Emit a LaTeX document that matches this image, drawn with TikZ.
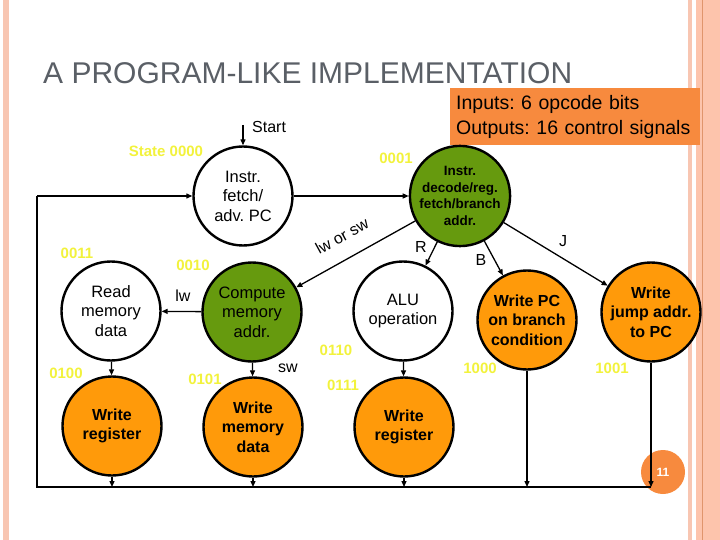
\documentclass[tikz,border=0pt]{standalone}
\usepackage{fontspec}
\setmainfont{Liberation Sans}
\usetikzlibrary{arrows.meta}
\definecolor{stategreen}{HTML}{669A0E}
\definecolor{stateorange}{HTML}{FF9A0A}
\definecolor{boxorange}{HTML}{F78A3E}
\definecolor{codeyellow}{HTML}{F2F23C}
\definecolor{titlegray}{HTML}{5A5F66}
\definecolor{edgepink}{HTML}{F8C6B2}
\definecolor{edgepeach}{HTML}{FDC4AC}
\definecolor{edgedark}{HTML}{E0956C}
\frenchspacing

\begin{document}
\begin{tikzpicture}[x=1pt,y=-1pt,
  fsmstate/.style={circle,draw=black,line width=2.4pt,minimum size=99pt,inner sep=0pt,align=center,font=\fontsize{16.5}{19.5}\selectfont},
  greenstate/.style={fsmstate,fill=stategreen},
  orangestate/.style={fsmstate,fill=stateorange,font=\bfseries\fontsize{16}{19.5}\selectfont},
  statecode/.style={text=codeyellow,font=\bfseries\fontsize{15}{16}\selectfont,inner sep=0pt},
  edgelabel/.style={font=\fontsize{16}{16}\selectfont,inner sep=0pt},
  link/.style={line width=1.3pt},
  arrow/.style={link,-{Triangle[length=6pt,width=5pt]}}]
\useasboundingbox (0,0) rectangle (720,540);
\fill[edgepink] (3,0) rectangle (9,540);
\fill[edgepink] (688,0) rectangle (692,540);
\fill[edgepeach] (696,0) rectangle (720,540);
\draw[edgedark,line width=1pt] (702,0) -- (702,540);

\node[anchor=base west,text=titlegray,font=\fontsize{30}{30}\selectfont,inner sep=0pt] (title) at (43,84) {A PROGRAM-LIKE IMPLEMENTATION};
\node[fill=boxorange,anchor=north west,minimum width=250pt,minimum height=57pt,text width=238pt,inner xsep=6pt,align=left,font=\fontsize{19.5}{25}\selectfont] (iobox) at (450,88) {Inputs: 6 opcode bits\\Outputs: 16 control signals};

\node[fsmstate] (fetch) at (243,196) {Instr.\\fetch/\\adv. PC};
\node[greenstate,font=\bfseries\fontsize{13.5}{16.5}\selectfont] (decode) at (460,196) {Instr.\\decode/reg.\\fetch/branch\\addr.};
\node[fsmstate] (read) at (111,311) {Read\\memory\\data};
\node[greenstate] (compute) at (252,312) {Compute\\memory\\addr.};
\node[fsmstate] (alu) at (403,311) {ALU\\operation};
\node[orangestate] (wreg1) at (112,426) {Write\\register};
\node[orangestate] (wmem) at (253,427) {Write\\memory\\data};
\node[orangestate] (wreg2) at (404,427) {Write\\register};
\node[orangestate] (wpc) at (527,320) {Write PC\\on branch\\condition};
\node[orangestate] (jump) at (651,312) {Write\\jump addr.\\to PC};

\node[statecode] (c0000) at (166,151) {State 0000};
\node[statecode] (c0001) at (396,158) {0001};
\node[statecode] (c0011) at (77,253) {0011};
\node[statecode] (c0010) at (193,265) {0010};
\node[statecode] (c0100) at (66,373) {0100};
\node[statecode] (c0101) at (205,379) {0101};
\node[statecode] (c0110) at (336,350) {0110};
\node[statecode] (c0111) at (343,385) {0111};
\node[statecode] (c1000) at (480,368) {1000};
\node[statecode] (c1001) at (612,368) {1001};

\node[circle,fill=boxorange,minimum size=44pt,inner sep=0pt,text=white,font=\bfseries\fontsize{12}{12}\selectfont] (pgnum) at (663,472) {11};

\coordinate (startpt) at (243,125);
\coordinate (botL) at (37,487);
\coordinate (botR) at (jump |- botL);
\coordinate (loopC) at (37,196);

\draw[arrow] (startpt) -- (fetch);
\node[edgelabel,anchor=west] (startlbl) at (252,127) {Start};
\draw[arrow] (fetch) -- (decode);
\draw[arrow] (decode) -- (compute);
\node[edgelabel,rotate=28.7] (lwsw) at (342,236) {lw or sw};
\draw[arrow] (decode) -- (alu);
\node[edgelabel] (rlbl) at (421,247) {R};
\draw[arrow] (decode) -- (wpc);
\node[edgelabel] (blbl) at (481,260) {B};
\draw[arrow] (decode) -- (jump);
\node[edgelabel] (jlbl) at (563,241) {J};
\draw[arrow] (compute) -- (read);
\node[edgelabel] (lwlbl) at (183,296) {lw};
\draw[arrow] (compute) -- (wmem);
\node[edgelabel] (swlbl) at (288,368) {sw};
\draw[arrow] (read) -- (wreg1);
\draw[arrow] (alu) -- (wreg2);

\draw[arrow] (wreg1) -- (wreg1 |- botL);
\draw[arrow] (wmem) -- (wmem |- botL);
\draw[arrow] (wreg2) -- (wreg2 |- botL);
\draw[arrow] (wpc) -- (wpc |- botL);
\draw[arrow] (jump) -- (botR);
\draw[link] (botR) -- (botL) -- (loopC);
\draw[arrow] (loopC) -- (fetch);
\end{tikzpicture}
\end{document}
